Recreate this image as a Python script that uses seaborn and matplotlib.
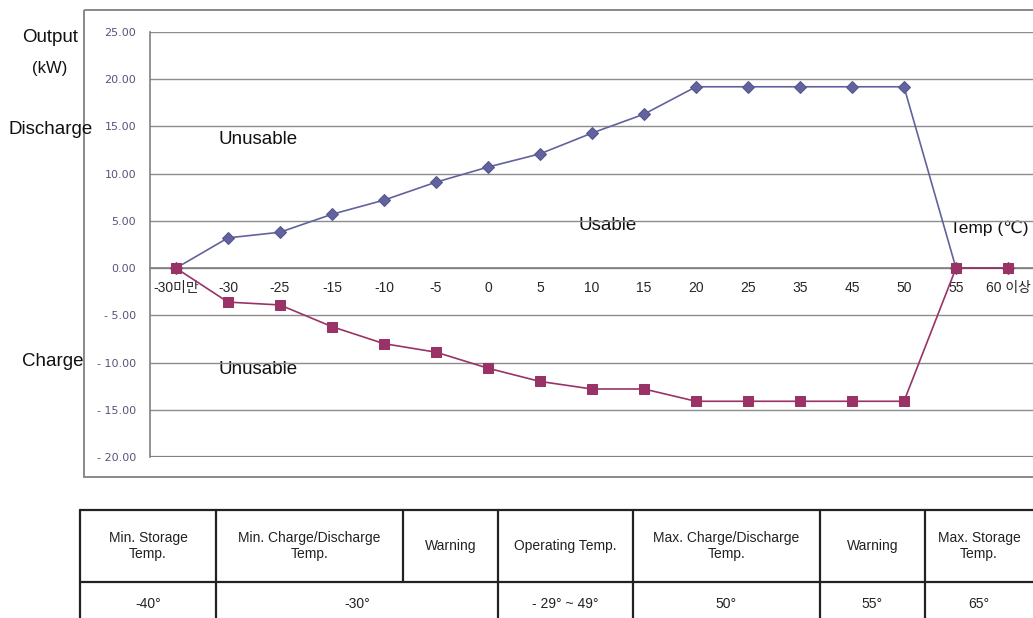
import matplotlib
matplotlib.use("Agg")
import matplotlib.pyplot as plt
import seaborn as sns
import pandas as pd
from matplotlib.patches import Rectangle

sns.set_style("white")
plt.rcParams['font.family'] = ['Liberation Sans', 'Noto Sans CJK KR', 'DejaVu Sans']

temps = ["-30미만", "-30", "-25", "-15", "-10", "-5", "0", "5", "10", "15",
         "20", "25", "35", "45", "50", "55", "60 이상"]
discharge = [0.0, 3.2, 3.8, 5.7, 7.2, 9.1, 10.7, 12.1, 14.3, 16.3,
             19.2, 19.2, 19.2, 19.2, 19.2, 0.0, 0.0]
charge = [0.0, -3.6, -3.9, -6.2, -8.0, -8.9, -10.6, -12.0, -12.8, -12.8,
          -14.1, -14.1, -14.1, -14.1, -14.1, 0.0, 0.0]
y_ticks = [25, 20, 15, 10, 5, 0, -5, -10, -15, -20]

table_head = ["Min. Storage\nTemp.", "Min. Charge/Discharge\nTemp.", "Warning",
              "Operating Temp.", "Max. Charge/Discharge\nTemp.", "Warning",
              "Max. Storage\nTemp."]
table_vals = ["-40°", "-30°", "- 29° ~ 49°", "50°", "55°", "65°"]
# column edges in pixels, and which edges the value row spans
col_edges = [80, 216, 403, 498, 633, 820, 925, 1033]
val_spans = [(80, 216), (216, 498), (498, 633), (633, 820), (820, 925), (925, 1033)]

df = pd.DataFrame({"pos": range(len(temps)), "discharge": discharge, "charge": charge})

fig = plt.figure(figsize=(10.33, 6.18), dpi=100)

# overlay in pixel coordinates for the frame, labels and table
ov = fig.add_axes([0, 0, 1, 1])
ov.set_xlim(0, 1033)
ov.set_ylim(618, 0)
ov.axis("off")
ov.add_patch(Rectangle((84, 10), 970, 467, fill=False, edgecolor="#808080", lw=1.3))

ax = fig.add_axes([150 / 1033, 161 / 618, 884 / 1033, 425 / 618])
ax.patch.set_alpha(0)

sns.lineplot(data=df, x="pos", y="discharge", ax=ax, color="#62629e", lw=1.2,
             marker="D", markersize=6.5, markeredgecolor="#55558f", zorder=3)
sns.lineplot(data=df, x="pos", y="charge", ax=ax, color="#993366", lw=1.2,
             marker="s", markersize=7, markeredgecolor="#993366", zorder=4)

ax.set_xlim(-0.5, len(temps) - 0.5)
ax.set_ylim(-20, 25)
ax.set_yticks(y_ticks)
ax.set_yticklabels([f"{v:.2f}" if v >= 0 else f"- {abs(v):.2f}" for v in y_ticks],
                   fontsize=8, color="#55557a", family=["DejaVu Sans"])
ax.set_xticks(range(len(temps)))
ax.set_xticklabels(temps, fontsize=7, color="#6a6a80",
                   family=["DejaVu Sans", "Noto Sans CJK KR"])
ax.set_xticks([i - 0.5 for i in range(len(temps) + 1)], minor=True)
ax.tick_params(axis="x", which="major", length=0, pad=9)
ax.tick_params(axis="x", which="minor", length=4, width=1, color="#808080", direction="out")
ax.tick_params(axis="y", length=4, width=1, color="#808080", direction="out", pad=6)
ax.yaxis.grid(True, color="#8c8c8c", lw=1.0)
ax.axhline(-20, color="#808080", lw=1.6, zorder=2)
ax.set_axisbelow(True)
ax.spines["bottom"].set_position(("data", 0))
for s in ["bottom", "left"]:
    ax.spines[s].set_color("#808080")
    ax.spines[s].set_linewidth(1.2)
ax.spines["top"].set_visible(False)
ax.spines["right"].set_visible(False)
ax.set_xlabel("")
ax.set_ylabel("")

# side and area labels
fs = 13.5
ov.text(50, 37, "Output", fontsize=fs, ha="center", va="center", color="#111")
ov.text(50, 68, "(kW)", fontsize=12, ha="center", va="center", color="#111")
ov.text(8, 130, "Discharge", fontsize=fs, ha="left", va="center", color="#111")
ov.text(22, 362, "Charge", fontsize=fs, ha="left", va="center", color="#111")
ov.text(219, 140, "Unusable", fontsize=fs, ha="left", va="center", color="#111")
ov.text(578, 225, "Usable", fontsize=fs, ha="left", va="center", color="#111")
ov.text(219, 370, "Unusable", fontsize=fs, ha="left", va="center", color="#111")
ov.text(1029, 228, "Temp (℃)", fontsize=12.5, ha="right", va="center", color="#111",
        family=["Liberation Sans", "DejaVu Sans"])

# table
top, mid, bot = 510, 582, 620
lc = "#222222"
ov.plot([80, 1033], [top, top], color=lc, lw=1.6)
ov.plot([80, 1033], [mid, mid], color=lc, lw=1.6)
for x in col_edges[:-1]:
    y_end = mid if x == 403 else bot
    ov.plot([x, x], [top, y_end], color=lc, lw=1.6)
for i, h in enumerate(table_head):
    xc = (col_edges[i] + col_edges[i + 1]) / 2
    ov.text(xc, 546, h, fontsize=10, ha="center", va="center", color="#222",
            linespacing=1.1)
for (x0, x1), v in zip(val_spans, table_vals):
    ov.text((x0 + x1) / 2, 604, v, fontsize=10, ha="center", va="center", color="#222")

fig.savefig("out.png", dpi=100)
